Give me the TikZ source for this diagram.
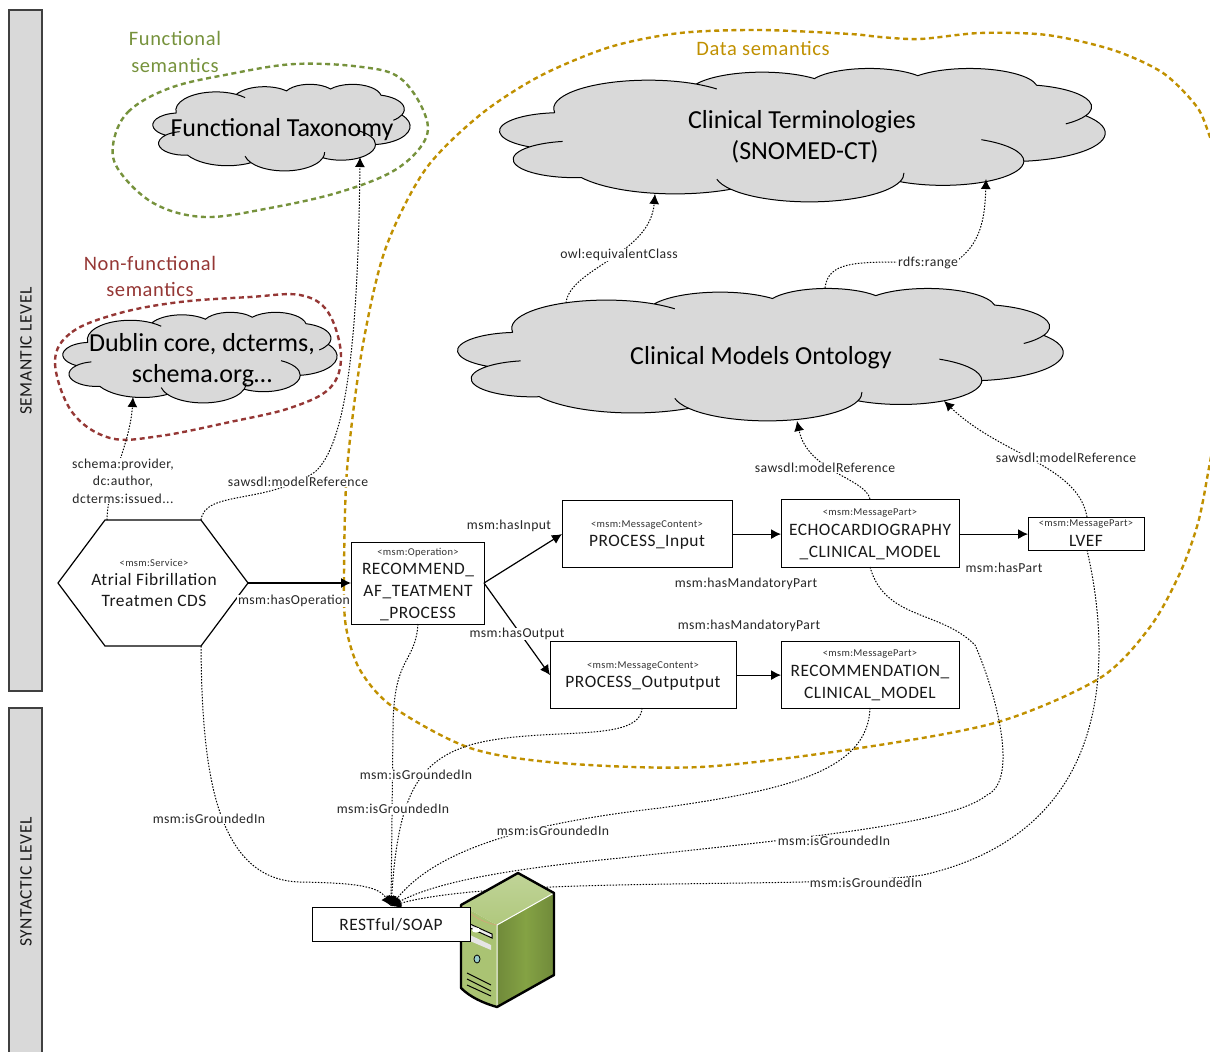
\documentclass[tikz,border=0pt]{standalone}
\usepackage{fontspec}
\setmainfont{Carlito}
\newfontfamily\spaced[LetterSpace=3]{Carlito}
\usetikzlibrary{arrows.meta}
\definecolor{goldc}{RGB}{192,144,0}
\definecolor{greenc}{RGB}{118,146,60}
\definecolor{redc}{RGB}{149,55,53}
\definecolor{cloudc}{RGB}{217,217,217}
\definecolor{srvtop}{RGB}{192,212,152}
\definecolor{srvtopb}{RGB}{176,200,125}
\definecolor{srvleft}{RGB}{170,195,115}
\definecolor{srvr}{RGB}{112,138,58}
\definecolor{srvm}{RGB}{132,162,68}
\newcommand\fsz[1]{\fontsize{#1}{#1}\selectfont}
% --- office-style cloud outline, built once in local units
\gdef\CPath{}\gdef\CExtra{}
\gdef\curx{3.9}\gdef\cury{14.37}
\newcommand\addarc[6]{%
  \pgfmathsetmacro\pa{atan2(#1*sin(#3),#2*cos(#3))}%
  \pgfmathsetmacro\ps{\pa+360*round((#3-\pa)/360)}%
  \pgfmathsetmacro\pb{atan2(#1*sin(#3+#4),#2*cos(#3+#4))}%
  \pgfmathsetmacro\pe{\pb+360*round((#3+#4-\pb)/360)}%
  \pgfmathsetmacro\ccx{\curx-#1*cos(\ps)}%
  \pgfmathsetmacro\ccy{\cury-#2*sin(\ps)}%
  \pgfmathsetmacro\ex{\ccx+#1*cos(\pe)}%
  \pgfmathsetmacro\ey{\ccy+#2*sin(\pe)}%
  \pgfmathsetmacro\bsx{\ccx+#1*cos(\ps-#5)}%
  \pgfmathsetmacro\bsy{\ccy+#2*sin(\ps-#5)}%
  \pgfmathsetmacro\psb{\ps-#5}%
  \pgfmathsetmacro\pef{\pe+#6}%
  \xdef\CPath{\CPath arc[x radius=#1pt,y radius=#2pt,start angle=\ps,end angle=\pe]}%
  \xdef\CExtra{\CExtra (\bsx,\bsy) arc[x radius=#1pt,y radius=#2pt,start angle=\psb,end angle=\ps]
     (\ex,\ey) arc[x radius=#1pt,y radius=#2pt,start angle=\pe,end angle=\pef]}%
  \xdef\curx{\ex}\xdef\cury{\ey}%
}
\addarc{6.753}{9.190}{-190.487}{123.781}{0}{16}
\addarc{5.333}{7.267}{-144.102}{89.945}{0}{0}
\addarc{4.365}{5.945}{-145.808}{99.723}{0}{0}
\addarc{4.857}{6.595}{-130.986}{117.242}{0}{0}
\addarc{5.333}{7.273}{-78.709}{109.027}{0}{26}
\addarc{6.775}{9.220}{-46.267}{130.269}{0}{0}
\addarc{5.785}{7.867}{0.625}{114.033}{62}{0}
\addarc{6.752}{9.215}{22.452}{115.173}{18}{22}
\addarc{7.720}{10.543}{66.243}{75.711}{0}{0}
\addarc{4.360}{5.918}{-274.942}{146.736}{0}{36}
\addarc{4.345}{5.945}{-246.829}{152.519}{0}{0}
% left, top, right, bottom of the visible cloud (pixels)
\newcommand\cloudat[4]{%
  \pgfmathsetmacro\csx{(#3-#1)/43.2}%
  \pgfmathsetmacro\csy{(#4-#2)/43.4}%
  \begin{scope}[x=1pt,y=1pt,shift={(#1pt,-#2pt)},xscale=\csx,yscale=-\csy]
    \fill[cloudc] (3.9,14.37) \CPath -- cycle;
    \draw[black,line width=1pt] (3.9,14.37) \CPath -- cycle \CExtra;
  \end{scope}%
}
\tikzset{
  box/.style={draw=black,fill=white,line width=1.2pt,inner sep=0pt,align=center,anchor=north west},
  lbl/.style={fill=white,inner sep=0.6pt,yshift=-1pt,font=\spaced\fsz{13.7},text=black!85},
  lblnf/.style={inner sep=0pt,yshift=-1pt,font=\spaced\fsz{13.7},text=black!85},
  boxtxt/.style={font=\spaced\fsz{17.4},text=black!90,inner sep=0pt,align=center},
  stereo/.style={font=\spaced\fsz{10.5},text=black!80,inner sep=0pt,yshift=-1.5pt},
  cloudtxt/.style={font=\fsz{26},inner sep=0pt,align=center},
  dotc/.style={line width=1pt,dash pattern=on 1.5pt off 1.5pt,black},
  dotarrow/.style={dotc,-{Latex[length=10pt,width=10pt,sep=0pt]}},
  solidarrow/.style={line width=1.2pt,black,-{Latex[length=10pt,width=10pt]}},
  blob/.style={line width=2.4pt,dash pattern=on 5pt off 3.6pt},
  sidebar/.style={draw=black!75,fill=cloudc,line width=1.2pt},
  sidetxt/.style={rotate=90,font=\spaced\fsz{17.5},text=black!90,inner sep=0pt},
  sem/.style={font=\spaced\fsz{20.5},inner sep=0pt,align=center},
}
\begin{document}
\begin{tikzpicture}[x=1pt,y=-1pt]
\useasboundingbox (0,0) rectangle (1210,1052);
% side bars
\draw[sidebar] (9,10) rectangle (42,691);
\draw[sidebar] (9,708) rectangle (42,1060);
\node[sidetxt] (semlvl) at (26,351) {SEMANTIC LEVEL};
\node[sidetxt] (synlvl) at (26,882) {SYNTACTIC LEVEL};
% clouds
\cloudat{153}{84}{410}{171}
\cloudat{500}{68}{1105}{202}
\cloudat{458}{288}{1063}{421}
\cloudat{63}{312}{337}{403}
% dashed regions
\draw[blob,greenc] plot[smooth cycle,tension=0.6] coordinates {(113,145)(128,112)(170,88)(230,74)(295,64)(362,67)(400,78)(424,112)(425,140)(395,170)(340,192)(270,208)(205,217)(155,204)(120,172)};
\draw[blob,redc] plot[smooth cycle,tension=0.6] coordinates {(55,362)(72,332)(120,313)(180,302)(250,297)(300,295)(328,312)(341,355)(330,388)(290,408)(230,422)(160,436)(110,438)(72,412)};
\begin{scope}
\clip (0,0) rectangle (1210,1052);
\draw[blob,goldc] plot[smooth,tension=0.5] coordinates {(1222,170)(1210,137)(1197,107)(1163,73)(1113,50)(1047,35)(980,33)(920,39)(880,37)(850,34)(760,30)(680,33)(610,47)(540,76)(480,115)(425,170)(385,250)(362,350)(347,470)(344,577)(346,627)(360,670)(393,707)(470,748)(560,763)(700,767)(860,748)(998,722)(1100,678)(1150,627)(1180,573)(1198,523)(1208,473)(1213,440)(1228,300)(1222,170)};
\end{scope}
% nodes
\coordinate (hexL) at (58,583);
\coordinate (hexTL) at (105,520);
\coordinate (hexTR) at (201,520);
\coordinate (hexR) at (248,583);
\coordinate (hexBR) at (201,646);
\coordinate (hexBL) at (105,646);
\draw[line width=1.2pt,fill=white] (hexL) -- (hexTL) -- (hexTR) -- (hexR) -- (hexBR) -- (hexBL) -- cycle;
\node[box,minimum width=133pt,minimum height=82pt] (op) at (351,542) {};
\node[box,minimum width=170pt,minimum height=67pt] (inp) at (562,500) {};
\node[box,minimum width=186pt,minimum height=67pt] (outp) at (550,641) {};
\node[box,minimum width=178pt,minimum height=68pt] (echo) at (781,499) {};
\node[box,minimum width=178pt,minimum height=67pt] (rec) at (781,641) {};
\node[box,minimum width=116pt,minimum height=33pt] (lvef) at (1028,517) {};
% cloud end points
\coordinate (ftaxE) at (360,157);
\coordinate (dubE) at (133,397);
\coordinate (termE1) at (655,194);
\coordinate (termE2) at (986,179);
\coordinate (modE1) at (797,421);
\coordinate (modE2) at (944,401);
\coordinate (modS1) at (566,303);
\coordinate (modS2) at (825,288);
\coordinate (echoT) at (870,499);
\coordinate (echoB) at (870,567);
\coordinate (lvefT) at (1087,517);
\coordinate (lvefB) at (1087,550);
\coordinate (opB) at (418,624);
\coordinate (outB) at (642,708);
\coordinate (recB) at (870,708);
\coordinate (restT) at (391,906);
% dotted connectors
\draw[dotarrow] (107,520) .. controls (108,480) and (130,445) .. (dubE);
\draw[dotarrow] (hexTR) .. controls (205,490) and (265,505) .. (315,472) .. controls (345,445) and (358,350) .. (ftaxE);
\draw[dotarrow] (modS1) .. controls (570,268) and (650,255) .. (termE1);
\draw[dotarrow] (modS2) .. controls (828,262) and (855,262) .. (905,262) -- (955,262) .. controls (980,245) and (985,220) .. (termE2);
\draw[dotarrow] (echoT) .. controls (865,478) and (808,472) .. (modE1);
\draw[dotarrow] (lvefT) .. controls (1078,465) and (1000,455) .. (modE2);
\draw[dotarrow] (hexBR) .. controls (202,760) and (212,880) .. (300,882) .. controls (350,883) and (378,885) .. (restT);
\draw[dotarrow] (opB) .. controls (415,665) and (393,655) .. (393,730) -- (restT);
\draw[dotarrow] (outB) .. controls (640,745) and (540,725) .. (470,745) .. controls (415,762) and (398,800) .. (restT);
\draw[dotarrow] (recB) .. controls (868,770) and (790,790) .. (660,808) .. controls (540,822) and (440,845) .. (restT);
\draw[dotarrow] (echoB) .. controls (885,620) and (940,610) .. (975,645) .. controls (995,690) and (1020,780) .. (987,795) .. controls (950,825) and (800,838) .. (620,858) .. controls (520,868) and (440,880) .. (restT);
\draw[dotarrow] (lvefB) .. controls (1110,650) and (1120,830) .. (923,875) .. controls (820,890) and (500,875) .. (restT);
% solid arrows
\draw[solidarrow] (hexR) -- (op.west |- hexR);
\draw[solidarrow] (484,583) -- (inp.west);
\draw[solidarrow] (484,583) -- (outp.west);
\draw[solidarrow] (inp.east) -- (inp.east -| echo.west);
\draw[solidarrow] (echo.east |- lvef.west) -- (lvef.west);
\draw[solidarrow] (outp.east) -- (outp.east -| rec.west);
% server
\shade[top color=srvtop,bottom color=srvtopb] (461,905) -- (518,873) -- (554,893) -- (497,925) -- cycle;
\fill[srvleft] (461,905) -- (497,925) -- (497,1007) .. controls (483,1003) and (470,997) .. (461,988) -- cycle;
\shade[left color=srvr,right color=srvr,middle color=srvm] (497,925) -- (554,893) -- (554,975) -- (497,1007) -- cycle;
\draw[brown!70!white,line width=0.7pt] (461,905) .. controls (472,917) and (485,923) .. (497,925);
\draw[white,line width=1pt] (554,893) -- (497,925) -- (497,1007);
\draw[black,line width=1pt,fill=white!85!gray] (470,924) -- (492,934) -- (492,938) -- (470,928) -- cycle;
\fill[white] (476,930) ellipse [x radius=4pt,y radius=2.5pt];
\fill[white!80!gray] (470,935) -- (491,945) -- (491,950) -- (470,941) -- cycle;
\draw[black,fill=teal!40!white,line width=0.8pt] (477,959) ellipse [x radius=3pt,y radius=4pt];
\draw[black,line width=1pt] (467,973) -- (491,985) (467,979) -- (491,991) (467,985) -- (491,996);
\draw[black,line width=2.4pt,line join=round] (461,905) -- (518,873) -- (554,893) -- (554,975) -- (497,1007) .. controls (483,1003) and (470,997) .. (461,988) -- cycle;
\node[box,minimum width=158pt,minimum height=34pt] (rest) at (312,907) {};
\node[boxtxt] (resttxt) at (391,925) {RESTful/SOAP};
% box texts
\node[stereo] (hexS) at (154,561) {<msm:Service>};
\node[boxtxt] (hexT) at (154,590) {Atrial Fibrillation\\[3pt]Treatmen CDS};
\node[stereo] (opS) at (418,551) {<msm:Operation>};
\node[boxtxt] (opT) at (418,592) {RECOMMEND\_\\[5pt]AF\_TEATMENT\\[5pt]\_PROCESS};
\node[stereo] (inS) at (647,523) {<msm:MessageContent>};
\node[boxtxt] (inT) at (647,542) {PROCESS\_Input};
\node[stereo] (outS) at (643,664) {<msm:MessageContent>};
\node[boxtxt] (outT) at (643,683) {PROCESS\_Outputput};
\node[stereo] (echoS) at (870,512) {<msm:MessagePart>};
\node[boxtxt] (echoT2) at (870,542) {ECHOCARDIOGRAPHY\\[5pt]\_CLINICAL\_MODEL};
\node[stereo] (recS) at (870,653) {<msm:MessagePart>};
\node[boxtxt] (recT) at (870,683) {RECOMMENDATION\_\\[5pt]CLINICAL\_MODEL};
\node[stereo] (lvS) at (1086,523) {<msm:MessagePart>};
\node[boxtxt] (lvT) at (1086,541) {LVEF};
% cloud texts
\node[cloudtxt] (ftax) at (282,130) {Functional Taxonomy};
\node[cloudtxt] (term) at (802,137) {Clinical Terminologies\\[5pt]\hspace*{6pt}(SNOMED-CT)};
\node[cloudtxt] (mod) at (761,358) {Clinical Models Ontology};
\node[cloudtxt] (dub) at (202,360) {Dublin core, dcterms,\\[5pt]schema.org…};
\node[sem,text=greenc] (fs) at (175,52) {Functional\\[6.5pt]semantics};
\node[sem,text=redc] (ns) at (150,276.5) {Non-functional\\[5.5pt]semantics};
\node[sem,text=goldc] (ds) at (763,48) {Data semantics};
% labels
\node[lbl,align=center] (l1) at (123,480) {schema:provider,\\[4pt]dc:author,\\[4pt]dcterms:issued...};
\node[lbl] (l2) at (298,481) {sawsdl:modelReference};
\node[lbl] (l3) at (294,600) {msm:hasOperation};
\node[lbl] (l4) at (509,525) {msm:hasInput};
\node[lbl] (l5) at (517,633) {msm:hasOutput};
\node[lblnf] (l6) at (746,583) {msm:hasMandatoryPart};
\node[lblnf] (l7) at (749,625) {msm:hasMandatoryPart};
\node[lblnf] (l8) at (1004,567) {msm:hasPart};
\node[lbl] (l9) at (825,467) {sawsdl:modelReference};
\node[lbl] (l10) at (1066,457) {sawsdl:modelReference};
\node[lbl] (l11) at (619,254) {owl:equivalentClass};
\node[lbl] (l12) at (928,262) {rdfs:range};
\node[lbl] (l13) at (209,818) {msm:isGroundedIn};
\node[lbl] (l14) at (416,774) {msm:isGroundedIn};
\node[lbl] (l15) at (393,808) {msm:isGroundedIn};
\node[lbl] (l16) at (553,830) {msm:isGroundedIn};
\node[lbl] (l17) at (834,840) {msm:isGroundedIn};
\node[lbl] (l18) at (866,882) {msm:isGroundedIn};
\end{tikzpicture}
\end{document}
